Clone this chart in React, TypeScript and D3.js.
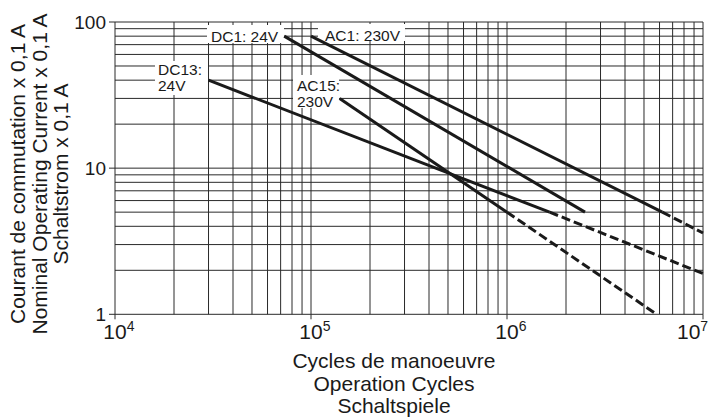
import React, { useEffect, useRef } from 'react'
import * as d3 from 'd3'

// curve points: [cycles, current x 0.1 A]
const dc1Solid: [number, number][] = [[7.3e4, 80], [2.5e6, 5]]
const ac1Solid: [number, number][] = [[1e5, 80], [6.2e6, 5]]
const ac1Dashed: [number, number][] = [[6.2e6, 5], [1e7, 3.6]]
const dc13Solid: [number, number][] = [[3e4, 40], [1.65e6, 5]]
const dc13Dashed: [number, number][] = [[1.65e6, 5], [1e7, 1.9]]
const ac15Solid: [number, number][] = [[1.4e5, 30], [1e6, 5]]
const ac15Dashed: [number, number][] = [[1e6, 5], [5.8e6, 1]]

const xDomain = [1e4, 1e7]
const yDomain = [1, 100]
const xTickExponents = [4, 5, 6, 7]
const yTickLabels = ['1', '10', '100']
const yTickValues = [1, 10, 100]

const curveLabels = [['DC1: 24V'], ['AC1: 230V'], ['DC13:', '24V'], ['AC15:', '230V']]
const yTitle = ['Courant de commutation x 0,1 A', 'Nominal Operating Current x 0,1 A', 'Schaltstrom x 0,1 A']
const xTitle = ['Cycles de manoeuvre', 'Operation Cycles', 'Schaltspiele']

// label placement (pixels): text origin + white box that masks the grid
const labelLayout = [
    { x: 211, y: 41.5, box: [207, 25, 77, 18] },
    { x: 325, y: 41, box: [318, 24, 87, 17] },
    { x: 158, y: 75, box: [155, 61, 53, 34] },
    { x: 297, y: 91, box: [293, 75, 46, 33] }
]

const W = 709
const H = 417
const FONT = "'Liberation Sans', Arial, Helvetica, sans-serif"

const App: React.FC = () => {
    const ref = useRef<SVGSVGElement>(null)
    useEffect(() => {
        const svg = d3.select(ref.current)
        svg.selectAll('*').remove()

        const x = d3.scaleLog().domain(xDomain).range([115, 703])
        const y = d3.scaleLog().domain(yDomain).range([314.3, 22])

        const grid = svg.append('g').attr('stroke', '#2a2a2a').attr('stroke-width', 1)
        grid.selectAll('line.v')
            .data(x.ticks())
            .join('line')
            .attr('class', 'v')
            .attr('x1', (d) => x(d))
            .attr('x2', (d) => x(d))
            .attr('y1', y(100))
            .attr('y2', y(1))
        grid.selectAll('line.h')
            .data(y.ticks())
            .join('line')
            .attr('class', 'h')
            .attr('x1', x(1e4))
            .attr('x2', x(1e7))
            .attr('y1', (d) => y(d))
            .attr('y2', (d) => y(d))

        // decade tick marks
        grid.selectAll('line.yt')
            .data(yTickValues)
            .join('line')
            .attr('class', 'yt')
            .attr('x1', x(1e4) - 6)
            .attr('x2', x(1e4))
            .attr('y1', (d) => y(d))
            .attr('y2', (d) => y(d))
        grid.selectAll('line.xt')
            .data(xTickExponents)
            .join('line')
            .attr('class', 'xt')
            .attr('x1', (d) => x(Math.pow(10, d)))
            .attr('x2', (d) => x(Math.pow(10, d)))
            .attr('y1', y(1))
            .attr('y2', y(1) + 5)

        // label masks
        svg.append('g')
            .selectAll('rect')
            .data(labelLayout)
            .join('rect')
            .attr('x', (d) => d.box[0])
            .attr('y', (d) => d.box[1])
            .attr('width', (d) => d.box[2])
            .attr('height', (d) => d.box[3])
            .attr('fill', 'white')

        const line = d3
            .line<[number, number]>()
            .x((d) => x(d[0]))
            .y((d) => y(d[1]))

        const curves = svg.append('g').attr('fill', 'none').attr('stroke', '#1a1a1a').attr('stroke-width', 3)
        curves.selectAll('path.solid')
            .data([dc1Solid, ac1Solid, dc13Solid, ac15Solid])
            .join('path')
            .attr('class', 'solid')
            .attr('d', (d) => line(d))
        curves.selectAll('path.dashed')
            .data([ac1Dashed, dc13Dashed, ac15Dashed])
            .join('path')
            .attr('class', 'dashed')
            .attr('stroke-dasharray', '9,4')
            .attr('d', (d) => line(d))

        const labels = svg.append('g').attr('font-family', FONT).attr('font-size', 15.5).attr('fill', '#1a1a1a')
        curveLabels.forEach((lines, i) => {
            const l = labelLayout[i]
            lines.forEach((t, j) => {
                labels.append('text').attr('x', l.x).attr('y', l.y + j * 15.5).text(t)
            })
        })

        // y tick labels
        svg.append('g')
            .selectAll('text')
            .data(yTickValues)
            .join('text')
            .attr('x', 106)
            .attr('y', (d) => y(d) + 6.8)
            .attr('text-anchor', 'end')
            .attr('font-family', FONT)
            .attr('font-size', 19)
            .attr('fill', '#1a1a1a')
            .text((d, i) => yTickLabels[i])

        // x tick labels 10^n
        const xt = svg.append('g').attr('font-family', FONT).attr('fill', '#1a1a1a')
        xTickExponents.forEach((e) => {
            const px = Math.min(x(Math.pow(10, e)) - 11.7, W - 32)
            const t = xt.append('text').attr('x', px).attr('y', 338.5).attr('font-size', 21)
            t.append('tspan').text('10')
            t.append('tspan').attr('font-size', 14).attr('dy', -8).text(String(e))
        })

        // axis titles
        const titles = svg.append('g').attr('font-family', FONT).attr('fill', '#1a1a1a').attr('text-anchor', 'middle')
        const yBase = [25, 47, 68]
        yTitle.forEach((t, i) => {
            titles.append('text')
                .attr('transform', `rotate(-90)`)
                .attr('x', -174)
                .attr('y', yBase[i])
                .attr('font-size', 21)
                .text(t)
        })
        const xBase = [368, 391, 413]
        xTitle.forEach((t, i) => {
            titles.append('text')
                .attr('x', 394)
                .attr('y', xBase[i])
                .attr('font-size', 21)
                .text(t)
        })
    }, [])
    return (
        <div style={{ position: 'absolute', left: 0, top: 0, width: W, height: H, background: 'white' }}>
            <svg ref={ref} width={W} height={H} viewBox={`0 0 ${W} ${H}`}></svg>
        </div>
    )
}

export default App
